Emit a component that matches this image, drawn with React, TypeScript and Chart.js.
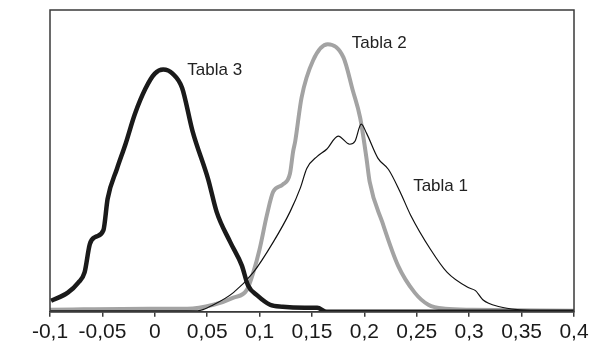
import React, { useEffect, useRef } from "react";
import { Chart, registerables } from "chart.js";

Chart.register(...registerables);

// Tabla 1 (thin black)
const tabla1X = [-0.1, -0.005, 0.041, 0.056, 0.075, 0.094, 0.113, 0.129, 0.139, 0.145, 0.155, 0.164, 0.175, 0.186, 0.191, 0.197, 0.202, 0.213, 0.223, 0.234, 0.244, 0.263, 0.279, 0.299, 0.306, 0.313, 0.329, 0.348, 0.37, 0.4];
const tabla1Y = [1, 1, 1, 7, 19, 39, 69, 99, 123, 142, 154, 161, 174, 166, 169, 186, 177, 152, 141, 119, 96, 62, 39, 24, 21, 12, 5, 2, 1, 0];

// Tabla 2 (thick gray)
const tabla2X = [-0.1, -0.005, 0.031, 0.056, 0.075, 0.088, 0.094, 0.1, 0.107, 0.113, 0.122, 0.129, 0.132, 0.134, 0.14, 0.151, 0.165, 0.18, 0.189, 0.196, 0.202, 0.205, 0.217, 0.232, 0.248, 0.261, 0.277, 0.303, 0.4];
const tabla2Y = [2, 3, 3, 7, 14, 22, 39, 62, 96, 119, 126, 137, 159, 169, 212, 249, 265, 252, 219, 192, 152, 129, 89, 46, 19, 7, 3, 2, 1];

// Tabla 3 (thick black)
const tabla3X = [-0.099, -0.083, -0.073, -0.067, -0.062, -0.057, -0.049, -0.045, -0.036, -0.028, -0.019, -0.009, 0.0, 0.008, 0.017, 0.026, 0.036, 0.051, 0.059, 0.072, 0.083, 0.089, 0.098, 0.11, 0.122, 0.143, 0.155, 0.164, 0.4];
const tabla3Y = [11, 19, 29, 39, 67, 74, 81, 112, 142, 166, 196, 221, 236, 240, 236, 222, 179, 131, 99, 69, 46, 26, 16, 7, 5, 4, 4, 0, 0];

const xMin = -0.1;
const xMax = 0.4;
const xStep = 0.05;
const yMax = 299;

const labelTexts = ["Tabla 3", "Tabla 2", "Tabla 1"];
const labelX = [0.031, 0.188, 0.2465];
const labelY = [239, 266, 124];

const toPts = (xs: number[], ys: number[]) => xs.map((x, i) => ({ x, y: ys[i] }));

const fmt = (v: number) => {
  const r = Math.round(v * 100) / 100;
  if (Math.abs(r) < 1e-9) return "0";
  return String(r).replace(".", ",");
};

const FONT = "'Liberation Sans', Arial, Helvetica, sans-serif";

export default function App() {
  const ref = useRef<HTMLCanvasElement | null>(null);
  useEffect(() => {
    if (!ref.current) return;
    const framePlugin = {
      id: "frame",
      afterDraw(chart: any) {
        const { ctx, chartArea, scales } = chart;
        ctx.save();
        ctx.strokeStyle = "#3a3a3a";
        ctx.lineWidth = 1.5;
        ctx.strokeRect(chartArea.left, chartArea.top, chartArea.right - chartArea.left, chartArea.bottom - chartArea.top);
        ctx.fillStyle = "#222";
        ctx.font = `17px ${FONT}`;
        ctx.textBaseline = "middle";
        ctx.textAlign = "left";
        labelTexts.forEach((t, i) => {
          ctx.fillText(t, scales.x.getPixelForValue(labelX[i]), scales.y.getPixelForValue(labelY[i]));
        });
        ctx.restore();
      },
    };
    const chart = new Chart(ref.current, {
      type: "line",
      data: {
        datasets: [
          {
            label: "Tabla 3",
            data: toPts(tabla3X, tabla3Y),
            borderColor: "#1a1a1a",
            borderWidth: 4.5,
            pointRadius: 0,
            cubicInterpolationMode: "monotone",
          },
          {
            label: "Tabla 1",
            data: toPts(tabla1X, tabla1Y),
            borderColor: "#111",
            borderWidth: 1.2,
            pointRadius: 0,
            cubicInterpolationMode: "monotone",
          },
          {
            label: "Tabla 2",
            data: toPts(tabla2X, tabla2Y),
            borderColor: "#a3a3a3",
            borderWidth: 4,
            pointRadius: 0,
            cubicInterpolationMode: "monotone",
          },
        ],
      },
      options: {
        animation: false,
        responsive: false,
        maintainAspectRatio: false,
        layout: { padding: { left: 50, right: 36, top: 10, bottom: 12 } },
        plugins: { legend: { display: false }, tooltip: { enabled: false } },
        scales: {
          x: {
            type: "linear",
            min: xMin,
            max: xMax,
            grid: { display: true, drawOnChartArea: false, drawTicks: true, tickLength: 5, color: "#3a3a3a", lineWidth: 1.5 },
            border: { display: true, color: "#3a3a3a", width: 1.5 },
            ticks: {
              stepSize: xStep,
              autoSkip: false,
              maxRotation: 0,
              minRotation: 0,
              padding: 3,
              color: "#1a1a1a",
              font: { family: FONT, size: 21 },
              callback: (v: any) => fmt(Number(v)),
            },
          },
          y: {
            display: false,
            min: 0,
            max: yMax,
          },
        },
      },
      plugins: [framePlugin],
    } as any);
    return () => chart.destroy();
  }, []);
  return (
    <div style={{ position: "fixed", left: 0, top: 0, width: 610, height: 360, background: "#fff" }}>
      <canvas ref={ref} width={610} height={360} style={{ width: 610, height: 360 }} />
    </div>
  );
}
